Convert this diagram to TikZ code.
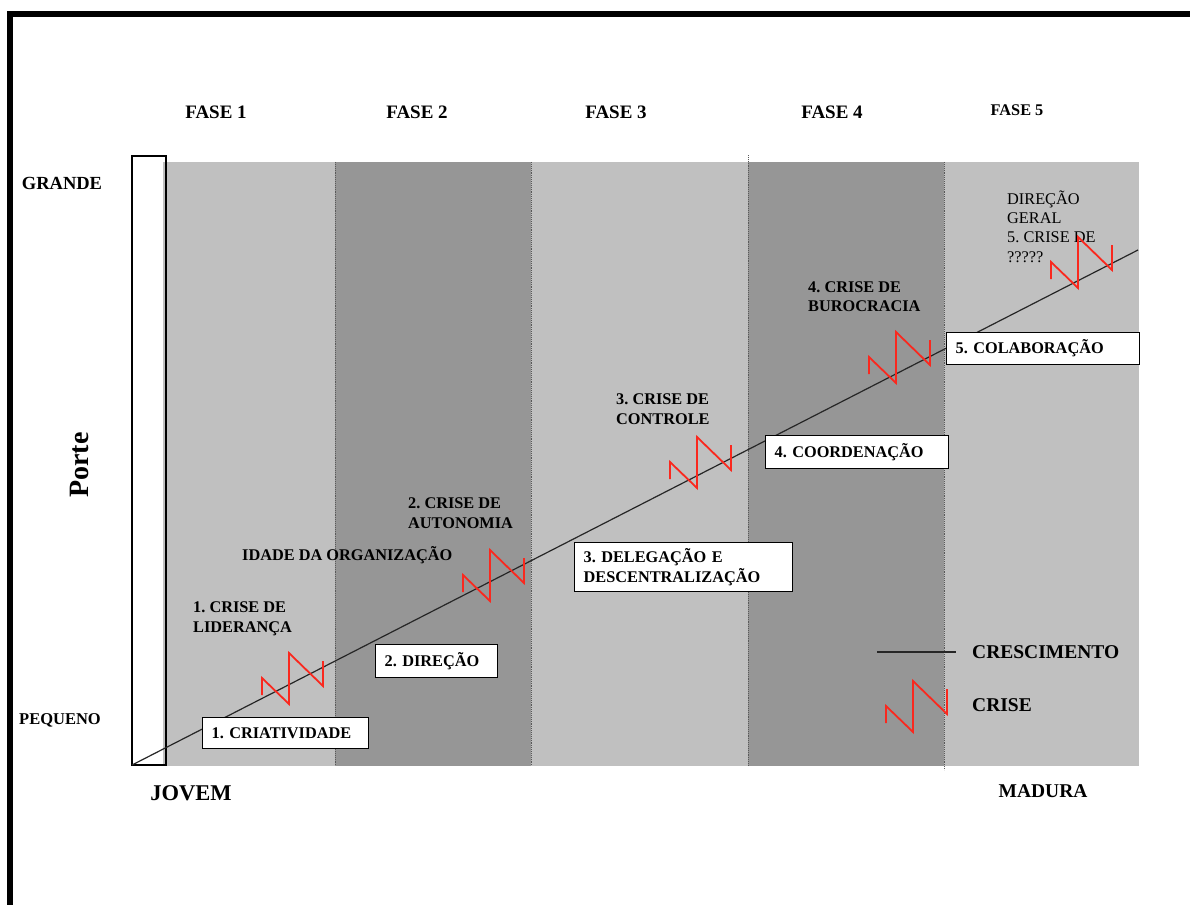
\documentclass[tikz,border=0pt]{standalone}
\usepackage{fontspec}
\setmainfont{Liberation Serif}
\frenchspacing
\usetikzlibrary{positioning, calc}
\definecolor{grigiochiaro}{RGB}{192,192,192}
\definecolor{grigioscuro}{RGB}{150,150,150}
\definecolor{rossocrisi}{RGB}{250,40,30}
\tikzset{
    fase/.style={font=\bfseries\fontsize{19}{23}\selectfont, inner sep=0pt, anchor=base},
    etichetta/.style={font=\bfseries\fontsize{16.3}{19.5}\selectfont, align=left, inner sep=0pt, anchor=north west},
    scatola/.style={draw, fill=white, line width=1.3pt, font=\bfseries\fontsize{16.3}{19.5}\selectfont,
        align=left, inner xsep=9pt, inner ysep=0pt, anchor=north west},
    separa/.style={densely dotted, line width=0.9pt, black!65},
    crescita/.style={line width=1.2pt, black!85},
    crise/.style={rossocrisi, line width=1.8pt},
    crisi/.pic={\draw[crise] (0,17) -- (0,0) -- (27,26) -- (27,-25) -- (61,8) -- (61,-17);}
}

\begin{document}
\begin{tikzpicture}[x=1pt, y=-1pt]
        \useasboundingbox (0,0) rectangle (1190,905);
        % cornice
            \draw[line width=6pt] (1190,14) -- (10,14) -- (10,905);
        % fasce
            \foreach \xa/\xb/\col in {163/335/grigiochiaro, 335/531/grigioscuro, 531/748/grigiochiaro, 748/944/grigioscuro, 944/1139/grigiochiaro}
                \fill[\col] (\xa,162) rectangle (\xb,766);
            \draw[separa] (335,162) -- (335,766);
            \draw[separa] (531,162) -- (531,766);
            \draw[separa] (748,155) -- (748,766);
            \draw[separa] (944,162) -- (944,770);
            \draw[line width=1.3pt] (132,156) rectangle (166,765);
        % crescita
            \coordinate (origine) at (132,765);
            \coordinate (fine) at (1138,250);
            \draw[crescita] (origine) -- (fine);
        % assi
            \node[fase] (fase1) at (216,118.3) {FASE 1};
            \node[fase] (fase2) at (417,118.3) {FASE 2};
            \node[fase] (fase3) at (616,118.3) {FASE 3};
            \node[fase] (fase4) at (832,118.3) {FASE 4};
            \node[fase, font=\bfseries\fontsize{16.3}{20}\selectfont] (fase5) at (1017,115.4) {FASE 5};
            \node[fase, font=\bfseries\fontsize{18.5}{22}\selectfont] (grande) at (62,189) {GRANDE};
            \node[fase, font=\bfseries\fontsize{16.5}{20}\selectfont] (pequeno) at (60,724.5) {PEQUENO};
            \node[font=\bfseries\fontsize{28}{30}\selectfont, rotate=90, inner sep=0pt] (porte) at (79,465) {Porte};
            \node[fase, font=\bfseries\fontsize{22.5}{26}\selectfont] (jovem) at (191,800) {JOVEM};
            \node[fase, font=\bfseries\fontsize{19.5}{23}\selectfont] (madura) at (1043,797.5) {MADURA};
            \node[etichetta, anchor=base west] (idade) at (242,560) {IDADE DA ORGANIZAÇÃO};
        % crisi
            \node[etichetta] (crise1) at (193,601.5) {1. CRISE DE\\LIDERANÇA};
            \node[etichetta] (crise2) at (408,497.5) {2. CRISE DE\\AUTONOMIA};
            \node[etichetta] (crise3) at (616,393.5) {3. CRISE DE\\CONTROLE};
            \node[etichetta] (crise4) at (808,281.5) {4. CRISE DE\\BUROCRACIA};
            \node[etichetta, font=\fontsize{16.3}{19.3}\selectfont] (crise5) at (1007,190.5) {DIREÇÃO\\GERAL\\5. CRISE DE\\?????};
            \pic at (262,678) {crisi};
            \pic at (463,575) {crisi};
            \pic at (670,462) {crisi};
            \pic at (869,357) {crisi};
            \pic at (1051,262) {crisi};
        % evoluzione
            \node[scatola, text width=148pt, minimum height=31pt] (criatividade) at (202,717) {1. CRIATIVIDADE};
            \node[scatola, text width=104pt, minimum height=33pt] (direcao) at (375,644) {2. DIREÇÃO};
            \node[scatola, text width=200pt, minimum height=49pt] (delegacao) at (574,542) {3. DELEGAÇÃO E\\DESCENTRALIZAÇÃO};
            \node[scatola, text width=165pt, minimum height=33pt] (coordenacao) at (765,435) {4. COORDENAÇÃO};
            \node[scatola, text width=175pt, minimum height=32pt] (colaboracao) at (946,332) {5. COLABORAÇÃO};
        % legenda
            \coordinate (lega) at (877,652);
            \coordinate (legb) at (956,652);
            \draw[crescita] (lega) -- (legb);
            \node[etichetta, anchor=base west, font=\bfseries\fontsize{19.5}{23}\selectfont] (crescimento) at (972,658.4) {CRESCIMENTO};
            \pic at (886,706) {crisi};
            \node[etichetta, anchor=base west, font=\bfseries\fontsize{19.5}{23}\selectfont] (legcrise) at (972,711.4) {CRISE};
        \end{tikzpicture}
\end{document}
